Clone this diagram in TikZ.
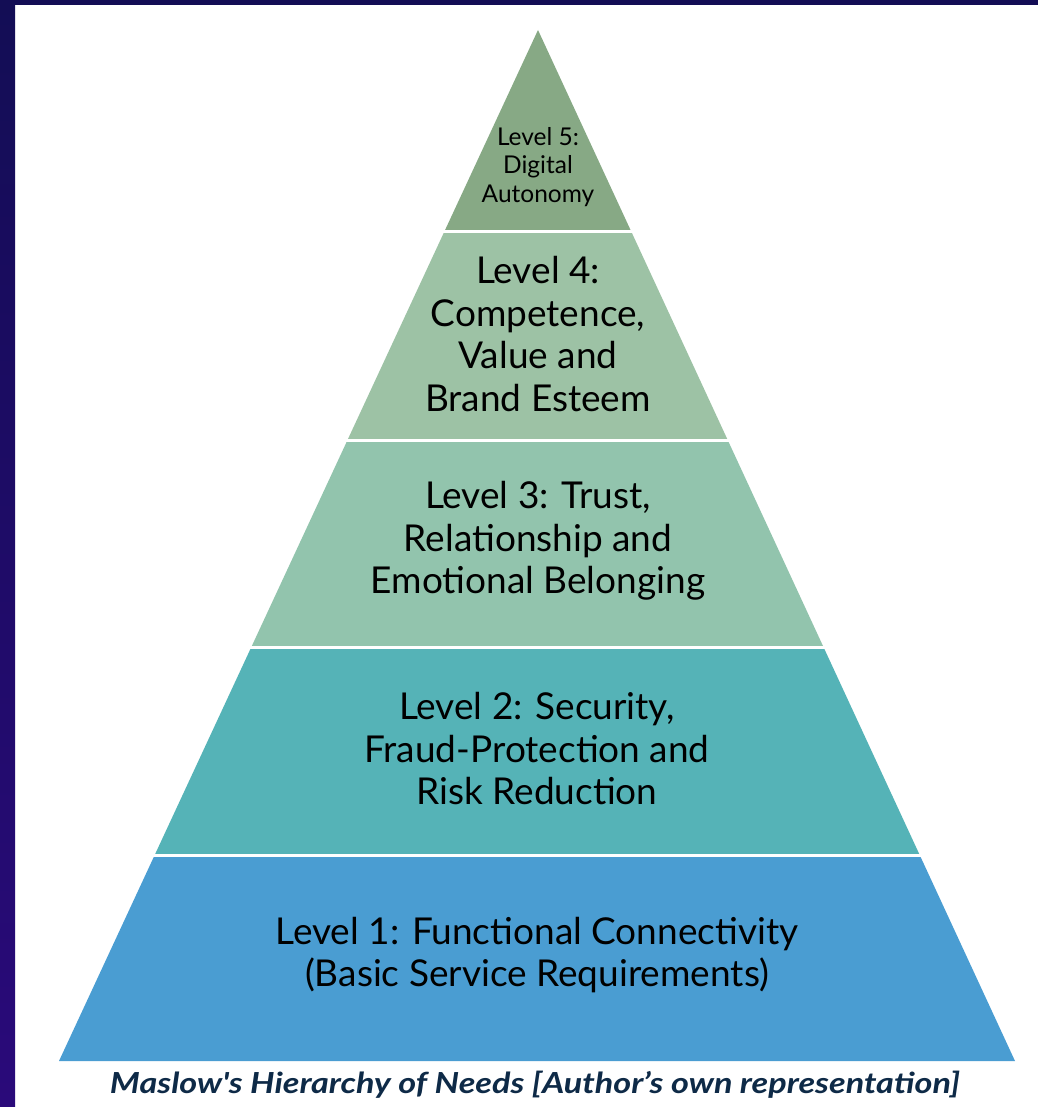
\documentclass[tikz,border=0pt]{standalone}
\usepackage{fontspec}
\usepackage{graphicx}
\setmainfont{Lato}
\newfontfamily\capfont{Lato}[Ligatures=TeXOff]
\definecolor{frameTop}{HTML}{130D55}
\definecolor{frameBot}{HTML}{2A0A7A}
\definecolor{lvlFive}{HTML}{87A985}
\definecolor{lvlFour}{HTML}{9DC2A5}
\definecolor{lvlThree}{HTML}{92C4AD}
\definecolor{lvlTwo}{HTML}{55B3B7}
\definecolor{lvlOne}{HTML}{4A9DD2}
\definecolor{capColor}{HTML}{0E2A47}
\tikzset{
  lvltext/.style={align=center, text=black, inner sep=0pt, font=\fontsize{37}{42.5}\selectfont},
  smalltext/.style={align=center, text=black, inner sep=0pt, font=\fontsize{24.5}{28.5}\selectfont},
  gapline/.style={draw=white, line width=3pt},
}
\begin{document}
\begin{tikzpicture}[x=1pt, y=-1pt]
\useasboundingbox (0,0) rectangle (1038,1107);
\fill[white] (0,0) rectangle (1038,1107);
\shade[top color=frameTop, bottom color=frameBot] (0,0) rectangle (15,1107);
\fill[frameTop] (0,0) rectangle (1038,5);
% pyramid
\coordinate (apex) at (538,30);
\coordinate (bl) at (59,1061);
\coordinate (br) at (1015,1061);
\foreach \ya/\yb/\col in {0/232/lvlFive, 232/440/lvlFour, 440/647.5/lvlThree, 647.5/855/lvlTwo, 855/1100/lvlOne}{
  \begin{scope}
    \clip (0,\ya) rectangle (1038,\yb);
    \fill[\col] (apex) -- (bl) -- (br) -- cycle;
  \end{scope}
}
\foreach \y in {232,440,647.5,855}{
  \draw[gapline] (30,\y) -- (1030,\y);
}
% labels
\node[smalltext] (l5) at (538,167) {Level 5:\\Digital\\Autonomy};
\node[lvltext] (l4) at (538,334) {Level 4:\\Competence,\\Value and\\Brand Esteem};
\node[lvltext] (l3) at (538,541) {Level 3: Trust,\\Relationship and\\Emotional Belonging};
\node[lvltext] (l2) at (537,749) {Level 2: Security,\\Fraud-Protection and\\Risk Reduction};
\node[lvltext] (l1) at (537,955) {Level 1: Functional Connectivity\\(Basic Service Requirements)};
\node[inner sep=0pt, text=capColor, font=\fontsize{29}{32}\capfont\bfseries\itshape] (cap) at (535,1085) {\scalebox{1.18}[1]{Maslow's Hierarchy of Needs [Author’s own representation]}};
\end{tikzpicture}
\end{document}
